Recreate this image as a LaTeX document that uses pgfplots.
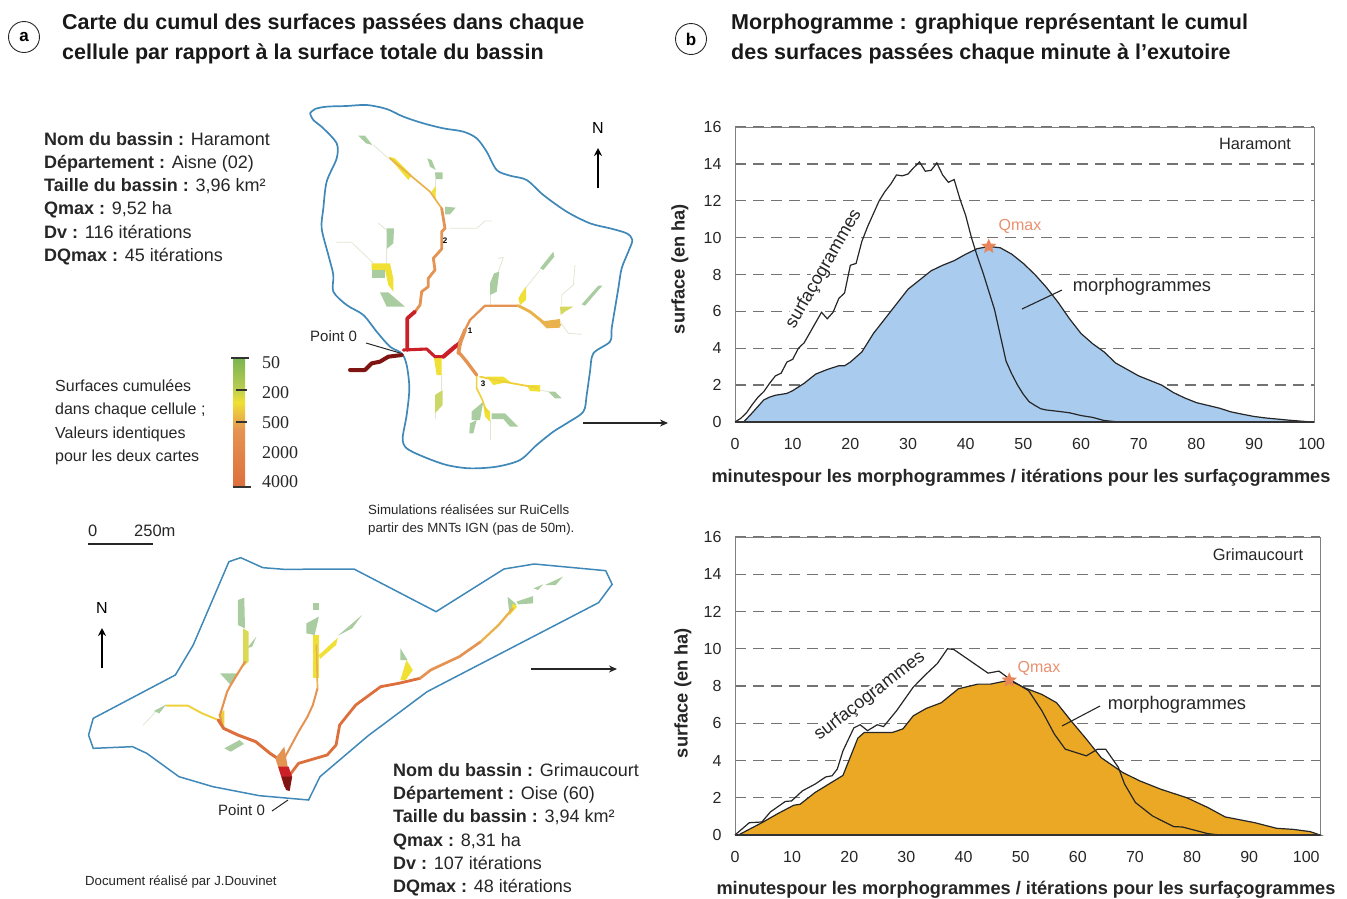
\documentclass[border=0pt]{standalone}
\usepackage{fontspec}
\setmainfont{Liberation Sans}
\newfontfamily\serifn{Liberation Serif}
\usepackage{pgfplots}
\pgfplotsset{compat=1.18}
\usetikzlibrary{arrows.meta}
\definecolor{basin}{HTML}{3F88B8}
\definecolor{blueA}{HTML}{A9CBEE}
\definecolor{oranA}{HTML}{EBA824}
\definecolor{salm}{HTML}{E9906F}
\definecolor{staro}{HTML}{E8855A}
\definecolor{gr}{HTML}{A9CDA0}
\definecolor{yel}{HTML}{F0E034}
\definecolor{yo}{HTML}{E9B24C}
\definecolor{ora}{HTML}{E59352}
\definecolor{ora2}{HTML}{DD6F3C}
\definecolor{rd}{HTML}{CB2028}
\definecolor{dk}{HTML}{7E1512}
\definecolor{thin}{HTML}{DFE7D2}
\definecolor{cbA}{HTML}{79B550}
\definecolor{cbB}{HTML}{B8CC50}
\pgfdeclareplotmark{fstar}{%
 \pgfpathmoveto{\pgfpointpolar{90}{\pgfplotmarksize}}%
 \pgfpathlineto{\pgfpointpolar{126}{0.45\pgfplotmarksize}}%
 \pgfpathlineto{\pgfpointpolar{162}{\pgfplotmarksize}}%
 \pgfpathlineto{\pgfpointpolar{198}{0.45\pgfplotmarksize}}%
 \pgfpathlineto{\pgfpointpolar{234}{\pgfplotmarksize}}%
 \pgfpathlineto{\pgfpointpolar{270}{0.45\pgfplotmarksize}}%
 \pgfpathlineto{\pgfpointpolar{306}{\pgfplotmarksize}}%
 \pgfpathlineto{\pgfpointpolar{342}{0.45\pgfplotmarksize}}%
 \pgfpathlineto{\pgfpointpolar{18}{\pgfplotmarksize}}%
 \pgfpathlineto{\pgfpointpolar{54}{0.45\pgfplotmarksize}}%
 \pgfpathclose\pgfusepathqfill}
\pgfplotsset{chart/.style={scale only axis,
  ymin=0,ymax=16,ytick={0,2,...,16},xtick={0,10,...,100},
  /pgf/number format/assume math mode=true,
  tick style={draw=none},
  axis line style={draw=black!50,line width=0.8pt},
  ymajorgrids,grid style={draw=black!55,line width=1.3pt,dash pattern=on 11pt off 7pt},
  ticklabel style={font=\fontsize{16}{16}\selectfont,text=black!85},
  yticklabel style={xshift=-10pt},
  xticklabel style={yshift=-13pt},
  clip=false}}
\pgfplotsset{maps/.style={scale only axis,hide axis,y dir=reverse,clip=false}}
\newcommand{\R}[3]{\addplot[draw=#1,line width=#2pt,line join=round,line cap=round] coordinates {#3};}
\newcommand{\Pl}[2]{\addplot[fill=#1,draw=none] coordinates {#2} --cycle;}
\newcommand{\tx}[3]{\node[anchor=base west,inner sep=0pt,text=black!85] at (axis cs:#1,#2) {#3};}
\newcommand{\bb}[3]{\node[anchor=base west,inner sep=0pt,text=black!85,font=\fontsize{18}{18}\selectfont] at (axis cs:#1,#2) {\textbf{#3}};}
\newcommand{\ti}[3]{\node[anchor=base west,inner sep=0pt,font=\bfseries\fontsize{21.5}{21.5}\selectfont,text=black!90] at (axis cs:#1,#2) {#3};}
\begin{document}
\begin{tikzpicture}
\path[use as bounding box] (0,0) rectangle (1347pt,898pt);
% chart top
\begin{axis}[chart,at={(735pt,476pt)},anchor=south west,width=579pt,height=295pt,xmin=0,xmax=100.4]
\node[inner sep=0pt,rotate=60,font=\fontsize{18}{18}\selectfont,text=black!85,fill=white] at (axis cs:15.4,8.3) {surfaçogrammes};
\addplot[fill=blueA,draw=black!85,line width=1.2pt] coordinates {
(1.5,0)(3,0.5)(5,1.2)(6,1.35)(7,1.45)(8,1.5)(9,1.55)(10,1.7)(12,2.1)(14,2.6)(16,2.85)(18,3.05)(19,3.05)(20,3.25)(22,3.8)(24,4.8)(26,5.6)(28,6.4)(30,7.2)(32,7.7)(34,8.2)(36,8.5)(38,8.75)(40,9.1)(42,9.4)(44,9.52)(46,9.45)(48,9.1)(50,8.6)(52,8.0)(54,7.3)(56,6.5)(58,5.6)(60,4.8)(62,4.25)(64,3.8)(66,3.2)(68,2.85)(70,2.5)(72,2.25)(74,2.0)(76,1.6)(78,1.3)(80,1.05)(82,0.9)(84,0.75)(86,0.55)(88,0.42)(90,0.3)(92,0.22)(94,0.16)(96,0.1)(98,0.05)(100,0)} --cycle;
\addplot[draw=black!85,line width=1.2pt] coordinates {
(0,0)(1,0.2)(2,0.5)(3,0.95)(4,1.35)(5,1.65)(6,2.1)(7,2.5)(8,2.65)(9,3.25)(10,3.4)(11,4.0)(12,4.3)(13,4.85)(14,5.4)(15,5.95)(16,5.6)(17,5.95)(18,6.7)(19,7.0)(20,8.5)(21,8.6)(22,9.8)(23,10.6)(24,11.3)(25,12.0)(26,12.5)(27,12.9)(28,13.4)(29,13.35)(30,13.45)(31,13.8)(32,14.1)(33,13.6)(34,13.65)(35,14.05)(36,13.4)(37,13.0)(38,13.15)(39,12.1)(40,11.2)(41,10.0)(42,9.0)(43,8.1)(44,7.1)(45,6.1)(46,4.7)(47,3.3)(48,2.6)(49,2.0)(50,1.5)(51,1.1)(52,0.9)(53,0.72)(54,0.65)(56,0.58)(58,0.5)(60,0.35)(62,0.25)(64,0.08)(66,0.02)(67,0)};
\addplot[draw=black!80,line width=1.4pt] coordinates {(0,0)(100.4,0)};
\addplot[only marks,mark=fstar,mark size=8pt,color=staro] coordinates {(44,9.52)};
\end{axis}
% chart bottom
\begin{axis}[chart,at={(735pt,63pt)},anchor=south west,width=585pt,height=298pt,xmin=0,xmax=102.4]
\node[inner sep=0pt,rotate=37.5,font=\fontsize{18}{18}\selectfont,text=black!85,fill=white] at (axis cs:23.6,7.45) {surfaçogrammes};
\addplot[fill=oranA,draw=black!85,line width=1.2pt] coordinates {
(0.6,0)(4.7,0.66)(7.5,1.15)(10.3,1.6)(11.4,1.65)(14,2.28)(18.9,3.2)(21.5,5.2)(22.6,5.5)(27.5,5.5)(29.4,5.7)(31.2,6.4)(33.5,6.8)(36.1,7.1)(39.1,7.85)(42.5,8.1)(44.7,8.1)(48,8.31)(50.7,7.9)(53.7,7.55)(56.3,7.1)(58.9,6.1)(61.5,5.15)(64.1,4.15)(67.9,3.35)(70.9,2.9)(74.6,2.45)(79.1,2.0)(82.8,1.47)(85.8,0.97)(91,0.66)(94.8,0.36)(97.8,0.3)(100.7,0.18)(102.4,0)} --cycle;
\addplot[draw=black!85,line width=1.2pt] coordinates {
(0,0)(2.5,0.66)(4.7,0.7)(6.2,1.24)(8.8,1.8)(9.9,1.83)(11.8,2.37)(14,2.73)(15.9,3.12)(17,3.18)(17.9,3.54)(18.9,4.52)(20.8,5.75)(21.9,5.92)(23.2,5.6)(24.9,5.92)(26,5.82)(28.3,6.68)(31.2,7.94)(33.5,8.65)(35.4,9.2)(37.2,10)(38.3,9.96)(44.3,8.69)(46.2,8.8)(48.4,8.3)(51.4,7.75)(53.7,6.68)(55.9,5.42)(57.8,4.61)(61.5,4.25)(63.4,4.6)(64.9,4.6)(67.1,3.63)(68.2,2.73)(70.1,1.74)(73.1,1.02)(76.8,0.45)(78.3,0.43)(82.8,0.07)(85,0)};
\addplot[draw=black!80,line width=1.4pt] coordinates {(0,0)(102.4,0)};
\addplot[only marks,mark=fstar,mark size=8pt,color=staro] coordinates {(48,8.31)};
\end{axis}
% map a
\begin{axis}[maps,at={(290pt,403pt)},anchor=south west,width=350pt,height=400pt,xmin=0,xmax=1050,ymin=0,ymax=1200]
\addplot[draw=basin,line width=1.7pt,smooth,tension=0.5] coordinates {(60,55)(75,42)(110,35)(170,33)(230,30)(290,42)(340,65)(400,85)(460,100)(520,110)(560,130)(590,170)(620,225)(660,242)(710,255)(760,300)(830,350)(900,385)(960,400)(1010,415)(1027,435)(1015,470)(995,520)(985,580)(975,640)(965,700)(960,740)(910,775)(900,830)(890,900)(880,950)(830,985)(790,1010)(740,1050)(690,1095)(620,1115)(540,1120)(470,1110)(400,1085)(350,1060)(338,1030)(350,960)(358,880)(350,810)(335,775)(300,755)(260,710)(220,660)(170,630)(130,590)(130,540)(115,480)(95,400)(100,340)(110,260)(140,190)(140,145)(100,100)(70,75)(60,55)};
\R{thin}{0.8}{(250,150)(295,190)}
\R{thin}{0.8}{(435,252)(435,290)}
\R{thin}{0.8}{(480,400)(560,400)(585,378)(605,378)}
\R{thin}{0.8}{(265,385)(290,405)}
\R{thin}{0.8}{(140,442)(185,442)(250,505)}
\R{thin}{0.8}{(288,462)(288,505)}
\R{thin}{0.8}{(600,600)(600,630)}
\R{thin}{0.8}{(625,490)(640,487)(625,530)}
\R{thin}{0.8}{(750,525)(690,600)}
\R{thin}{0.8}{(810,680)(835,715)(875,718)}
\R{thin}{0.8}{(815,630)(815,600)(850,570)(855,510)}
\R{thin}{0.8}{(750,885)(775,890)}
\R{thin}{0.8}{(455,840)(455,885)}
\R{thin}{0.8}{(435,955)(435,970)}
\R{thin}{0.8}{(602,975)(602,1035)}
\Pl{gr}{(205,122)(225,122)(247,150)(228,145)}
\Pl{gr}{(412,190)(425,195)(437,225)(420,215)}
\Pl{gr}{(435,232)(458,232)(458,252)(437,252)}
\Pl{gr}{(465,335)(497,338)(480,358)(465,358)}
\Pl{gr}{(290,400)(312,400)(310,445)(290,462)}
\Pl{gr}{(612,535)(628,530)(620,590)(600,600)(600,565)}
\Pl{gr}{(750,520)(790,470)(793,485)(760,525)}
\Pl{gr}{(875,628)(925,572)(937,572)(885,632)}
\Pl{gr}{(270,592)(295,592)(345,635)(290,635)}
\Pl{gr}{(775,890)(795,890)(815,910)(795,910)}
\Pl{gr}{(545,950)(580,920)(570,975)(545,975)}
\Pl{gr}{(540,985)(560,975)(550,1015)(538,1015)}
\Pl{gr}{(605,955)(645,955)(685,995)(660,995)(640,972)(605,972)}
\Pl{yel!60!gr}{(810,635)(850,635)(825,650)(812,660)}
\Pl{yel!50!gr}{(435,900)(458,885)(458,930)(435,955)}
\Pl{yel}{(295,185)(315,190)(365,240)(355,255)}
\Pl{yel}{(425,290)(437,272)(437,315)}
\Pl{yel}{(245,505)(300,505)(310,550)(310,590)(295,570)(285,525)(245,525)}
\Pl{gr}{(245,525)(285,525)(285,550)(245,550)}
\Pl{yel}{(685,610)(708,575)(708,615)(690,630)}
\Pl{yel}{(432,790)(455,785)(455,840)(440,840)}
\Pl{yel}{(590,845)(640,845)(660,860)(610,870)}
\Pl{yel}{(710,870)(750,870)(750,890)(720,888)}
\Pl{yel}{(580,930)(600,950)(600,980)(585,965)}
\R{yo}{1.7}{(455,340)(420,290)(360,240)(300,190)}
\R{yel!80!ora}{1.6}{(560,840)(560,880)(575,910)(590,950)}
\R{yel!80!ora}{1.8}{(570,845)(640,860)(740,878)}
\Pl{yo}{(750,680)(810,672)(810,698)(770,700)}
\R{ora}{2.8}{(375,650)(390,630)(395,590)(415,575)(415,550)(435,525)(430,490)(455,462)(455,410)(465,400)(455,340)}
\R{ora}{2.3}{(505,745)(525,705)(540,675)(585,632)(685,632)}
\R{yo}{2.9}{(685,632)(720,650)(770,690)(810,690)}
\R{ora}{3.3}{(505,770)(530,800)(560,840)}
\R{rd}{3.8}{(352,765)(352,670)(375,650)}
\R{rd}{3.1}{(340,765)(410,762)(435,785)(460,785)}
\R{rd}{4.2}{(460,785)(495,755)(510,745)}
\R{ora}{3.8}{(505,775)(510,745)(525,705)}
\R{dk}{4.0}{(180,825)(225,825)(245,805)(270,800)(295,785)(335,780)}
\end{axis}
% map b
\begin{axis}[maps,at={(70pt,83pt)},anchor=south west,width=560pt,height=270pt,xmin=0,xmax=1568,ymin=0,ymax=810]
\addplot[draw=basin,line width=1.5pt] coordinates {(65,520)(295,390)(345,300)(445,50)(478,38)(540,68)(600,73)(795,72)(1025,200)(1215,72)(1300,57)(1500,77)(1518,118)(1480,173)(1000,440)(835,572)(700,695)(668,765)(530,752)(400,725)(305,695)(215,625)(175,605)(65,610)(52,570)(65,520)};
\R{thin}{0.8}{(205,540)(245,495)}
\Pl{gr}{(470,165)(488,158)(490,250)(470,240)}
\Pl{gr}{(420,385)(470,385)(450,420)}
\Pl{gr}{(495,310)(522,275)(510,305)}
\Pl{gr}{(680,175)(697,175)(697,195)(680,195)}
\Pl{gr}{(662,235)(697,215)(685,270)(662,265)}
\Pl{gr}{(750,272)(818,210)(790,250)}
\Pl{gr}{(925,310)(945,345)(925,345)}
\Pl{gr}{(432,610)(475,585)(487,597)(450,620)}
\Pl{gr}{(235,498)(270,478)(250,505)}
\Pl{gr}{(1298,130)(1325,118)(1310,135)}
\Pl{gr}{(1330,120)(1380,95)(1360,120)}
\Pl{gr}{(1250,170)(1297,153)(1297,175)(1255,178)}
\Pl{gr}{(1225,155)(1250,178)(1230,205)}
\Pl{yel!70!gr}{(485,250)(500,260)(500,350)(485,365)}
\Pl{yel}{(680,270)(697,270)(697,400)(680,400)}
\Pl{yel}{(697,330)(750,278)(745,300)(700,342)}
\Pl{yel}{(942,345)(960,375)(940,405)(925,405)}
\Pl{yel}{(1240,175)(1252,185)(1230,212)}
\R{yel!80!ora}{1.9}{(270,482)(330,482)(370,505)(415,525)}
\Pl{yel!80!ora}{(415,510)(432,495)(432,550)}
\R{ora}{2.1}{(425,540)(420,510)(440,440)(450,420)(490,350)}
\R{ora}{2.0}{(600,640)(640,560)(665,515)(680,480)(693,430)}
\R{yo}{1.7}{(693,430)(690,300)}
\R{ora2}{3.0}{(595,650)(560,625)(520,590)(470,570)(430,550)(415,525)}
\R{ora2}{2.8}{(615,690)(640,655)(720,630)(745,600)(755,540)(800,480)(870,425)(920,415)(980,400)}
\R{ora}{2.7}{(980,400)(1010,375)(1090,335)(1150,290)}
\R{yo}{2.3}{(1150,290)(1200,240)(1240,190)}
\Pl{ora}{(575,640)(600,605)(612,680)(590,690)}
\Pl{rd}{(583,665)(612,665)(622,695)(612,735)(600,725)}
\Pl{dk}{(592,695)(622,695)(615,738)(605,735)}
\end{axis}
% overlay
\begin{axis}[scale only axis,hide axis,at={(0pt,0pt)},anchor=south west,width=1347pt,height=898pt,xmin=0,xmax=1347,ymin=0,ymax=898,y dir=reverse,clip=false]
\ti{62}{29}{Carte du cumul des surfaces passées dans chaque}
\ti{62}{59}{cellule par rapport à la surface totale du bassin}
\ti{731}{29}{Morphogramme : graphique représentant le cumul}
\ti{731}{59}{des surfaces passées chaque minute à l’exutoire}
\node[draw=black!85,circle,line width=0.9pt,minimum size=31pt,inner sep=0pt,font=\bfseries\fontsize{17}{17}\selectfont] at (axis cs:24,37) {a};
\node[draw=black!85,circle,line width=0.9pt,minimum size=31pt,inner sep=0pt,font=\bfseries\fontsize{17}{17}\selectfont] at (axis cs:691,39) {b};
\bb{44}{145}{Nom du bassin :\mdseries{} Haramont}
\bb{44}{168}{Département :\mdseries{} Aisne (02)}
\bb{44}{191}{Taille du bassin :\mdseries{} 3,96 km²}
\bb{44}{214}{Qmax :\mdseries{} 9,52 ha}
\bb{44}{238}{Dv :\mdseries{} 116 itérations}
\bb{44}{261}{DQmax :\mdseries{} 45 itérations}
\bb{393}{776}{Nom du bassin :\mdseries{} Grimaucourt}
\bb{393}{799}{Département :\mdseries{} Oise (60)}
\bb{393}{822}{Taille du bassin :\mdseries{} 3,94 km²}
\bb{393}{846}{Qmax :\mdseries{} 8,31 ha}
\bb{393}{869}{Dv :\mdseries{} 107 itérations}
\bb{393}{892}{DQmax :\mdseries{} 48 itérations}
\tx{55}{391}{\fontsize{16}{16}\selectfont Surfaces cumulées}
\tx{55}{414}{\fontsize{16}{16}\selectfont dans chaque cellule ;}
\tx{55}{438}{\fontsize{16}{16}\selectfont Valeurs identiques}
\tx{55}{461}{\fontsize{16}{16}\selectfont pour les deux cartes}
% colour bar
\shade[top color=cbA,bottom color=cbB] (axis cs:233,358) rectangle (axis cs:245,388);
\shade[top color=cbB,bottom color=yel] (axis cs:233,388) rectangle (axis cs:245,402);
\shade[top color=yel,bottom color=ora] (axis cs:233,402) rectangle (axis cs:245,430);
\shade[top color=ora,bottom color=ora2] (axis cs:233,430) rectangle (axis cs:245,487);
\draw[black!80,line width=1.1pt] (axis cs:231,358) -- (axis cs:249,358);
\draw[black!80,line width=1.1pt] (axis cs:236,390) -- (axis cs:247,390);
\draw[black!80,line width=1.1pt] (axis cs:236,422) -- (axis cs:247,422);
\draw[black!80,line width=1.1pt] (axis cs:233,487) -- (axis cs:251,487);
\tx{262}{368}{\serifn\fontsize{18}{18}\selectfont 50}
\tx{262}{398}{\serifn\fontsize{18}{18}\selectfont 200}
\tx{262}{428}{\serifn\fontsize{18}{18}\selectfont 500}
\tx{262}{458}{\serifn\fontsize{18}{18}\selectfont 2000}
\tx{262}{487}{\serifn\fontsize{18}{18}\selectfont 4000}
\tx{88}{536}{\fontsize{16.5}{16.5}\selectfont 0}
\tx{134}{536}{\fontsize{16.5}{16.5}\selectfont 250m}
\draw[black!85,line width=1.2pt] (axis cs:88,544) -- (axis cs:153,544);
\tx{368}{514}{\fontsize{13.3}{13.3}\selectfont Simulations réalisées sur RuiCells}
\tx{368}{532}{\fontsize{13.3}{13.3}\selectfont partir des MNTs IGN (pas de 50m).}
\tx{85}{885}{\fontsize{13.2}{13.2}\selectfont Document réalisé par J.Douvinet}
\tx{310}{341}{\fontsize{15}{15}\selectfont Point 0}
\tx{218}{815}{\fontsize{15}{15}\selectfont Point 0}
\draw[black!85,line width=1pt] (axis cs:366,343) -- (axis cs:400,353);
\draw[black!85,line width=1pt] (axis cs:272,811) -- (axis cs:288,800);
\node[inner sep=0pt,font=\fontsize{16}{16}\selectfont] at (axis cs:598,128) {N};
\draw[-{Stealth[length=8pt,width=8pt]},black,line width=1.4pt] (axis cs:598,188) -- (axis cs:598,148);
\node[inner sep=0pt,font=\fontsize{16}{16}\selectfont] at (axis cs:102,608) {N};
\draw[-{Stealth[length=8pt,width=8pt]},black,line width=1.4pt] (axis cs:102,668) -- (axis cs:102,628);
\draw[-{Stealth[length=8pt,width=7pt]},black!85,line width=1.3pt] (axis cs:583,423) -- (axis cs:668,423);
\draw[-{Stealth[length=8pt,width=7pt]},black!85,line width=1.3pt] (axis cs:531,669) -- (axis cs:617,669);
\node[inner sep=0pt,font=\bfseries\fontsize{8}{8}\selectfont] at (axis cs:470,331) {1};
\node[inner sep=0pt,font=\bfseries\fontsize{8}{8}\selectfont] at (axis cs:445,241) {2};
\node[inner sep=0pt,font=\bfseries\fontsize{8}{8}\selectfont] at (axis cs:483,384) {3};
% chart texts
\node[inner sep=0pt,rotate=90,font=\bfseries\fontsize{18.3}{18.3}\selectfont,text=black!85] at (axis cs:680,269) {surface (en ha)};
\node[inner sep=0pt,rotate=90,font=\bfseries\fontsize{18.3}{18.3}\selectfont,text=black!85] at (axis cs:683,693) {surface (en ha)};
\node[inner sep=0pt,font=\bfseries\fontsize{18.2}{18.2}\selectfont,text=black!85] at (axis cs:1021,478) {minutespour les morphogrammes / itérations pour les surfaçogrammes};
\node[inner sep=0pt,font=\bfseries\fontsize{18.2}{18.2}\selectfont,text=black!85] at (axis cs:1026,890) {minutespour les morphogrammes / itérations pour les surfaçogrammes};
\node[inner sep=0pt,font=\fontsize{16.4}{16.4}\selectfont,text=black!85] at (axis cs:1255,144) {Haramont};
\node[inner sep=0pt,font=\fontsize{16.4}{16.4}\selectfont,text=black!85] at (axis cs:1258,555) {Grimaucourt};
\node[inner sep=0pt,font=\fontsize{18.3}{18.3}\selectfont,text=black!85] at (axis cs:1142,287) {morphogrammes};
\node[inner sep=0pt,font=\fontsize{18.3}{18.3}\selectfont,text=black!85] at (axis cs:1177,705) {morphogrammes};
\draw[black!85,line width=1.1pt] (axis cs:1022,309) -- (axis cs:1062,290);
\draw[black!85,line width=1.1pt] (axis cs:1062,726) -- (axis cs:1100,706);
\node[inner sep=0pt,font=\fontsize{16}{16}\selectfont,text=salm] at (axis cs:1020,226) {Qmax};
\node[inner sep=0pt,font=\fontsize{16}{16}\selectfont,text=salm] at (axis cs:1039,668) {Qmax};
\end{axis}
\end{tikzpicture}
\end{document}
